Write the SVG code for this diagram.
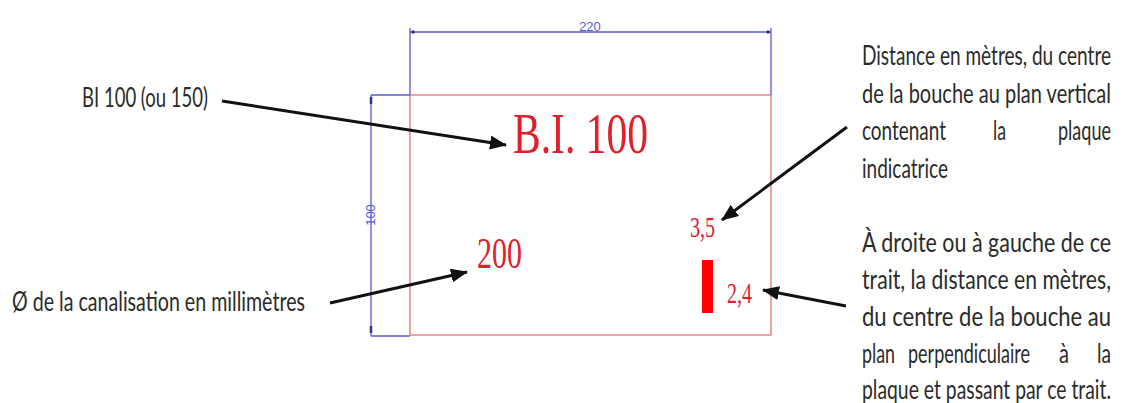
<svg xmlns="http://www.w3.org/2000/svg" width="1122" height="403" viewBox="0 0 1122 403">
<style>
.note{font-family:Lato,"Liberation Sans",sans-serif;font-size:27px;fill:#2b2b2b}
.red{font-family:"Liberation Serif",serif;fill:#e0202c}
.dim{stroke:#5a5ad6;stroke-width:1.3;fill:none}
.dimtxt{font-family:"Liberation Sans",sans-serif;font-size:13px;fill:#5a5ad6}
.arr{stroke:#111;stroke-width:3;fill:none;marker-end:url(#ah)}
</style>
<defs>
<marker id="ah" markerUnits="userSpaceOnUse" markerWidth="18" markerHeight="14" refX="16" refY="7" orient="auto">
<path d="M0,0 L17,7 L0,14 z" fill="#111"/>
</marker>
</defs>
<rect width="1122" height="403" fill="#fff"/>

<g id="plaque">
<rect x="410" y="95" width="361" height="240" fill="none" stroke="#ec8a90" stroke-width="1.6"/>
<text class="red" x="513" y="153" font-size="58" textLength="135" lengthAdjust="spacingAndGlyphs">B.I. 100</text>
<text class="red" x="477" y="268" font-size="44" textLength="45" lengthAdjust="spacingAndGlyphs">200</text>
<text class="red" x="690" y="237" font-size="29" textLength="25" lengthAdjust="spacingAndGlyphs">3,5</text>
<text class="red" x="727" y="303" font-size="29" textLength="25" lengthAdjust="spacingAndGlyphs">2,4</text>
<rect x="702" y="260" width="11" height="53" fill="#ff0000"/>
</g>

<g id="dim-width">
<path class="dim" d="M410,28 V95 M771,28 V95 M410,32 H771"/>
<circle cx="413" cy="32" r="1.8" fill="#33338a"/>
<circle cx="768" cy="32" r="1.8" fill="#33338a"/>
<text class="dimtxt" x="590" y="31" text-anchor="middle">220</text>
</g>

<g id="dim-height">
<path class="dim" d="M371,95 V336 M371,95 H410 M371,336 H410"/>
<path d="M371,97 V104 M371,326 V333" stroke="#33338a" stroke-width="2.5"/>
<text class="dimtxt" transform="translate(375,215) rotate(-90)" text-anchor="middle">100</text>
</g>

<g id="label-bi">
<text class="note" x="82" y="107" textLength="126" lengthAdjust="spacingAndGlyphs">BI 100 (ou 150)</text>
</g>

<g id="label-diam">
<text class="note" x="12" y="311" textLength="293" lengthAdjust="spacingAndGlyphs">Ø de la canalisation en millimètres</text>
</g>

<g id="label-distance">
<text class="note" x="862" y="65" textLength="249" lengthAdjust="spacingAndGlyphs">Distance en mètres, du centre</text>
<text class="note" x="862" y="103" textLength="249" lengthAdjust="spacingAndGlyphs">de la bouche au plan vertical</text>
<text class="note" x="862" y="140" textLength="84" lengthAdjust="spacingAndGlyphs">contenant</text>
<text class="note" x="993" y="140" textLength="13" lengthAdjust="spacingAndGlyphs">la</text>
<text class="note" x="1058" y="140" textLength="53" lengthAdjust="spacingAndGlyphs">plaque</text>
<text class="note" x="862" y="178" textLength="86" lengthAdjust="spacingAndGlyphs">indicatrice</text>
</g>

<g id="label-trait">
<text class="note" x="862" y="252" textLength="249" lengthAdjust="spacingAndGlyphs">À droite ou à gauche de ce</text>
<text class="note" x="862" y="289" textLength="249" lengthAdjust="spacingAndGlyphs">trait, la distance en mètres,</text>
<text class="note" x="862" y="326" textLength="249" lengthAdjust="spacingAndGlyphs">du centre de la bouche au</text>
<text class="note" x="862" y="363" textLength="33" lengthAdjust="spacingAndGlyphs">plan</text>
<text class="note" x="908" y="363" textLength="122" lengthAdjust="spacingAndGlyphs">perpendiculaire</text>
<text class="note" x="1059" y="363" textLength="10" lengthAdjust="spacingAndGlyphs">à</text>
<text class="note" x="1097" y="363" textLength="14" lengthAdjust="spacingAndGlyphs">la</text>
<text class="note" x="862" y="399" textLength="249" lengthAdjust="spacingAndGlyphs">plaque et passant par ce trait.</text>
</g>

<g id="connectors">
<line class="arr" x1="222" y1="101" x2="506" y2="145"/>
<line class="arr" x1="330" y1="303" x2="467" y2="272"/>
<line class="arr" x1="847" y1="127" x2="722" y2="220"/>
<line class="arr" x1="846" y1="306" x2="763" y2="290"/>
</g>
</svg>
